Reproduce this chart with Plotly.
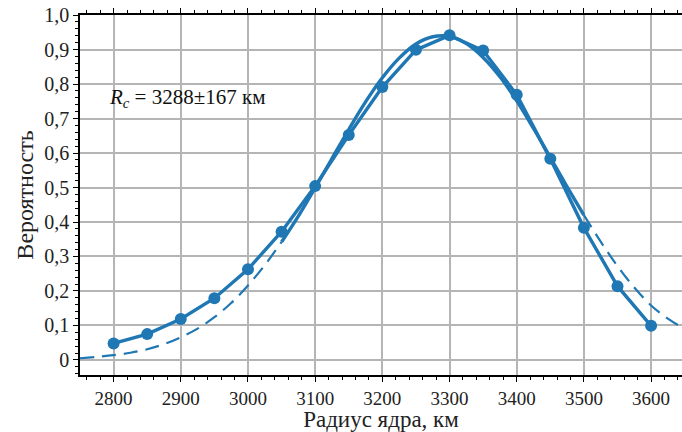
import plotly.graph_objects as go

# Measured probabilities
radius = [2800, 2850, 2900, 2950, 3000, 3050, 3100, 3150, 3200, 3250, 3300, 3350, 3400, 3450, 3500, 3550, 3600]
prob = [0.048, 0.075, 0.119, 0.179, 0.263, 0.372, 0.504, 0.652, 0.791, 0.899, 0.941, 0.897, 0.769, 0.583, 0.383, 0.214, 0.099]

# Fitted curve (left dashed, solid middle, right dashed)
fit_left_x = [2750, 2775, 2800, 2825, 2850, 2875, 2900, 2925, 2950, 2975, 3000, 3025, 3050]
fit_left_y = [0.005, 0.009, 0.014, 0.021, 0.031, 0.046, 0.066, 0.091, 0.124, 0.165, 0.216, 0.275, 0.342]
fit_mid_x = [3050, 3075, 3100, 3125, 3150, 3175, 3200, 3225, 3250, 3275, 3300, 3325, 3350, 3375, 3400, 3425, 3450, 3475, 3500]
fit_mid_y = [0.342, 0.417, 0.499, 0.584, 0.668, 0.748, 0.818, 0.875, 0.916, 0.937, 0.938, 0.917, 0.877, 0.821, 0.751, 0.671, 0.587, 0.502, 0.420]
fit_right_x = [3500, 3525, 3550, 3575, 3600, 3625, 3650, 3675, 3700]
fit_right_y = [0.420, 0.343, 0.272, 0.210, 0.158, 0.120, 0.090, 0.064, 0.046]

y_ticks = [0, 0.1, 0.2, 0.3, 0.4, 0.5, 0.6, 0.7, 0.8, 0.9, 1.0]
y_ticktext = ["0", "0,1", "0,2", "0,3", "0,4", "0,5", "0,6", "0,7", "0,8", "0,9", "1,0"]
x_ticks = [2800, 2900, 3000, 3100, 3200, 3300, 3400, 3500, 3600]

color = "#1f77b4"
fig = go.Figure()
fig.add_trace(go.Scatter(x=fit_left_x, y=fit_left_y, mode="lines", line=dict(color=color, width=2.2, dash="14px,8px", shape="spline")))
fig.add_trace(go.Scatter(x=fit_right_x, y=fit_right_y, mode="lines", line=dict(color=color, width=2.2, dash="14px,8px", shape="spline")))
fig.add_trace(go.Scatter(x=fit_mid_x, y=fit_mid_y, mode="lines", line=dict(color=color, width=3.4, shape="spline")))
fig.add_trace(go.Scatter(x=radius, y=prob, mode="lines+markers", line=dict(color=color, width=3.4),
                         marker=dict(color=color, size=12)))

font = "Liberation Serif, Times New Roman, Times, serif"
fig.add_annotation(x=2790, y=0.76, xref="x", yref="y", xanchor="left", yanchor="middle", showarrow=False,
                   text="<i>R</i><sub><i>c</i></sub> = 3288±167 км", font=dict(family=font, size=21, color="#111"))

fig.update_layout(
    width=682, height=432,
    margin=dict(l=80, r=0, t=15, b=57, autoexpand=False),
    paper_bgcolor="white", plot_bgcolor="white",
    showlegend=False,
    font=dict(family=font, size=20, color="#222"),
)
fig.update_xaxes(range=[2750, 3646], tickvals=x_ticks, showgrid=True, gridcolor="#b5b5b5", gridwidth=1.5,
                 showline=True, linecolor="black", linewidth=1.5, mirror="ticks", automargin=False,
                 ticks="outside", ticklen=5, tickwidth=1.2, tickcolor="black",
                 tickfont=dict(family=font, size=19, color="#222"),
                 minor=dict(dtick=20, ticklen=3, tickwidth=1, tickcolor="black", ticks="outside", showgrid=False),
                 zeroline=False,
                 title=dict(text="Радиус ядра, км", font=dict(family=font, size=23, color="#222"), standoff=4))
fig.update_yaxes(range=[-0.0435, 1.0], tickvals=y_ticks, ticktext=y_ticktext, showgrid=True, gridcolor="#b5b5b5", gridwidth=1.5,
                 showline=True, linecolor="black", linewidth=1.5, automargin=False,
                 ticks="outside", ticklen=5, tickwidth=1.2, tickcolor="black",
                 tickfont=dict(family=font, size=20, color="#222"),
                 minor=dict(dtick=0.02, tick0=0, ticklen=3, tickwidth=1, tickcolor="black", ticks="outside", showgrid=False),
                 zeroline=False,
                 title=dict(text="Вероятность", font=dict(family=font, size=24, color="#222"), standoff=4))

fig.write_html("out.html", config={"displayModeBar": False},
               post_script="document.body.style.margin='0';document.body.style.overflow='hidden';")
